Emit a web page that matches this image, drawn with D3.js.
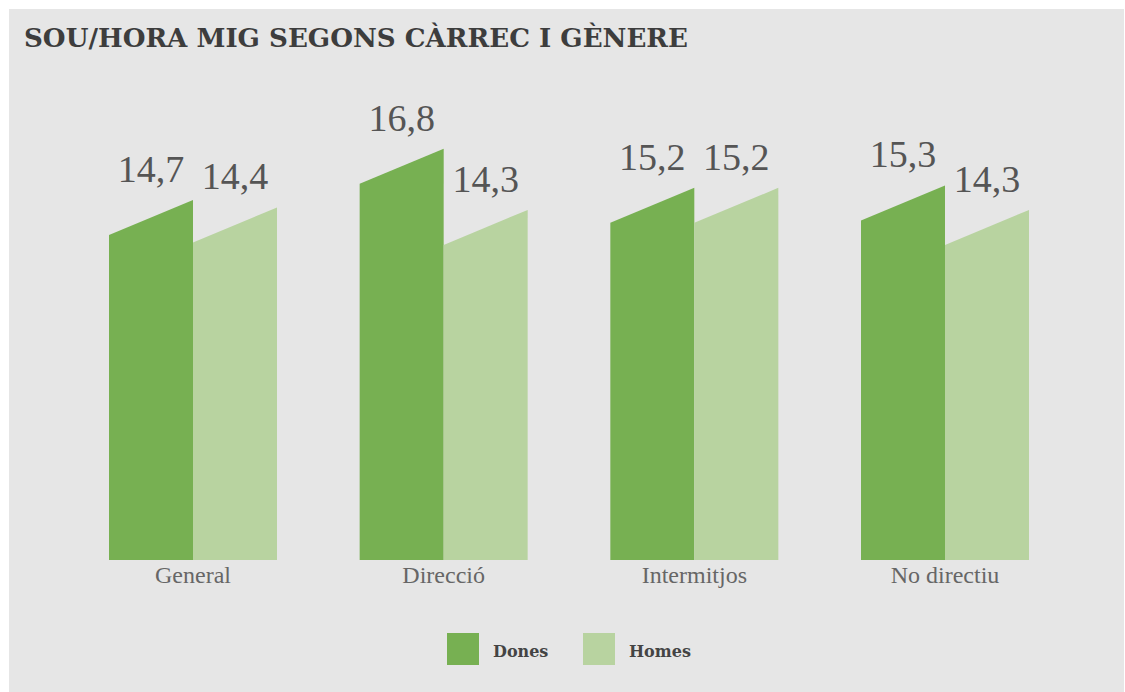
<!DOCTYPE html>
<html><head><meta charset="utf-8">
<script src="https://cdn.jsdelivr.net/npm/d3@7"></script>
<style>
html,body{margin:0;padding:0;background:#fff;}
svg{display:block;}
</style></head>
<body>
<svg id="chart" width="1125" height="692"></svg>
<script>
const title = "SOU/HORA MIG SEGONS CÀRREC I GÈNERE";
const categories = ["General", "Direcció", "Intermitjos", "No directiu"];
const seriesNames = ["Dones", "Homes"];
const dones = [14.7, 16.8, 15.2, 15.3];
const homes = [14.4, 14.3, 15.2, 14.3];
const colors = ["#77b052", "#b8d3a0"];

const svg = d3.select("#chart");
svg.append("rect").attr("x", 9).attr("y", 9).attr("width", 1115).attr("height", 683).attr("fill", "#e6e6e6");

svg.append("text").attr("x", 24).attr("y", 47)
  .attr("font-family", "DejaVu Serif").attr("font-weight", "bold").attr("font-size", 26)
  .attr("fill", "#3d3d3d").attr("textLength", 664).attr("lengthAdjust", "spacingAndGlyphs")
  .text(title);

const x = d3.scaleBand().domain(categories).range([109, 1029]).paddingInner(0.3298).paddingOuter(0);
const xs = d3.scaleBand().domain(seriesNames).range([0, x.bandwidth()]).padding(0);
const y = d3.scaleLinear().domain([0, 16.8]).range([560, 148.7]);
const slant = 35;

const data = [];
categories.forEach((c, i) => {
  data.push({cat: c, s: "Dones", v: dones[i], color: colors[0]});
  data.push({cat: c, s: "Homes", v: homes[i], color: colors[1]});
});

const g = svg.append("g");
g.selectAll("path.bar").data(data).enter().append("path")
  .attr("class", "bar")
  .attr("fill", d => d.color)
  .attr("d", d => {
    const x0 = x(d.cat) + xs(d.s), x1 = x0 + xs.bandwidth();
    const yt = y(d.v), yb = y(0);
    return `M${x0},${yb}L${x0},${yt + slant}L${x1},${yt}L${x1},${yb}Z`;
  });

g.selectAll("text.val").data(data).enter().append("text")
  .attr("class", "val")
  .attr("x", d => x(d.cat) + xs(d.s) + xs.bandwidth() / 2)
  .attr("y", d => y(d.v) - 18)
  .attr("text-anchor", "middle")
  .attr("font-family", "Liberation Serif").attr("font-size", 38)
  .attr("fill", "#555")
  .text(d => d3.format(".1f")(d.v).replace(".", ","));

const xAxis = svg.append("g").attr("transform", "translate(0,560)")
  .call(d3.axisBottom(x).tickSize(0).tickPadding(0));
xAxis.select(".domain").remove();
xAxis.selectAll("text").attr("dy", null).attr("y", 23)
  .attr("font-family", "Liberation Serif").attr("font-size", 24).attr("fill", "#666");

const legend = svg.append("g");
const legX = [447, 583];
seriesNames.forEach((s, i) => {
  legend.append("rect").attr("x", legX[i]).attr("y", 633).attr("width", 32).attr("height", 32).attr("fill", colors[i]);
  legend.append("text").attr("x", legX[i] + 46).attr("y", 657)
    .attr("font-family", "DejaVu Serif").attr("font-weight", "bold").attr("font-size", 16)
    .attr("fill", "#444").text(s);
});
</script>
</body></html>
